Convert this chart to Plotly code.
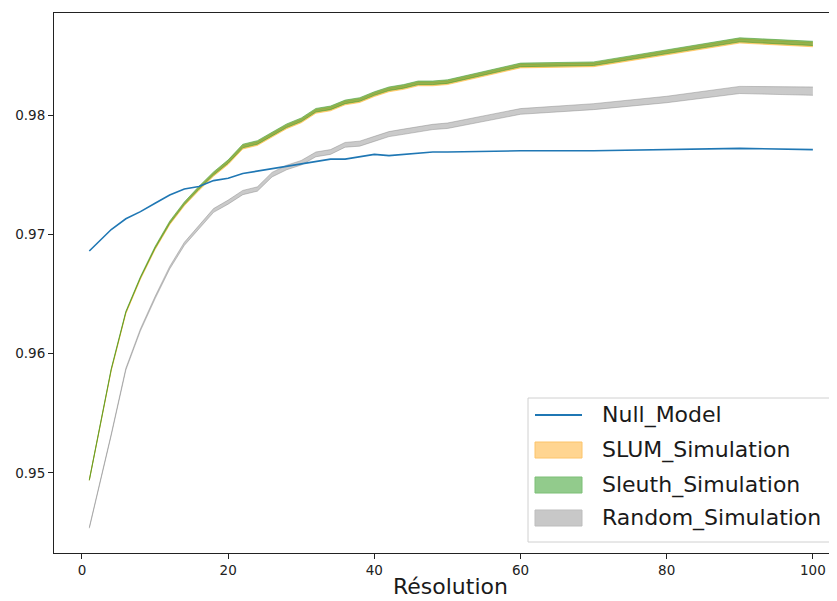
import plotly.graph_objects as go

# resolution values (x)
resolution = [1, 4, 6, 8, 10, 12, 14, 16, 18, 20, 22, 24, 26, 28, 30, 32, 34, 36, 38, 40,
              42, 44, 46, 48, 50, 60, 70, 80, 90, 100]

null_model = [0.9686, 0.9704, 0.9713, 0.9719, 0.9726, 0.9733, 0.9738, 0.9740, 0.9745, 0.9747,
              0.9751, 0.9753, 0.9755, 0.9757, 0.9759, 0.9761, 0.9763, 0.9763, 0.9765, 0.9767,
              0.9766, 0.9767, 0.9768, 0.9769, 0.9769, 0.9770, 0.9770, 0.9771, 0.9772, 0.9771]

sleuth_mean = [0.9494, 0.9587, 0.9635, 0.9664, 0.9689, 0.9710, 0.9726, 0.9739, 0.9751, 0.9761,
               0.9774, 0.9777, 0.9784, 0.9791, 0.9796, 0.9804, 0.9806, 0.9811, 0.9813, 0.9818,
               0.9822, 0.9824, 0.9827, 0.9827, 0.9828, 0.9842, 0.9843, 0.9853, 0.9863, 0.9860]
sleuth_spread = [0.00003, 0.00004, 0.00005, 0.00006, 0.00008, 0.0001, 0.00011, 0.00012, 0.00013, 0.00014,
                 0.00015, 0.00015, 0.00015, 0.00015, 0.00015, 0.00015, 0.00015, 0.00015, 0.00015, 0.00015,
                 0.00015, 0.00015, 0.00015, 0.00015, 0.00015, 0.00015, 0.00015, 0.00016, 0.00017, 0.00018]

slum_mean = [0.9494, 0.9586, 0.9634, 0.9663, 0.9688, 0.9709, 0.9725, 0.9738, 0.9750, 0.9760,
             0.9773, 0.9776, 0.9783, 0.9790, 0.9795, 0.9803, 0.9805, 0.9810, 0.9812, 0.9817,
             0.9821, 0.9823, 0.9826, 0.9826, 0.9827, 0.9841, 0.9842, 0.9852, 0.9862, 0.9859]
slum_spread = [0.00003, 0.00004, 0.00005, 0.00006, 0.00008, 0.0001, 0.00011, 0.00012, 0.00013, 0.00014,
               0.00015, 0.00015, 0.00015, 0.00015, 0.00015, 0.00015, 0.00015, 0.00015, 0.00015, 0.00015,
               0.00015, 0.00015, 0.00015, 0.00015, 0.00015, 0.00015, 0.00015, 0.00016, 0.00017, 0.00018]

random_mean = [0.9454, 0.9532, 0.9587, 0.9620, 0.9647, 0.9672, 0.9692, 0.9706, 0.9720, 0.9727,
               0.9735, 0.9738, 0.9750, 0.9756, 0.9760, 0.9767, 0.9769, 0.9775, 0.9776, 0.9780,
               0.9784, 0.9786, 0.9788, 0.9790, 0.9791, 0.9803, 0.9807, 0.9813, 0.9821, 0.9820]
random_spread = [0.00004, 0.00006, 0.00008, 0.00009, 0.0001, 0.00011, 0.00013, 0.00015, 0.00016, 0.00017,
                 0.00018, 0.00018, 0.00019, 0.00019, 0.00019, 0.0002, 0.0002, 0.0002, 0.00021, 0.00021,
                 0.00021, 0.00022, 0.00022, 0.00022, 0.00023, 0.00024, 0.00025, 0.00027, 0.0003, 0.00035]

legend_names = ['Null_Model', 'SLUM_Simulation', 'Sleuth_Simulation', 'Random_Simulation']
legend_patch_colors = [None, '#ffd591', '#92cb8c', '#c8c8c8']
legend_edge_colors = [None, '#fcc46a', '#7dbf77', '#bdbdbd']

y_ticks = [0.95, 0.96, 0.97, 0.98]
x_ticks = [0, 20, 40, 60, 80, 100]

# page geometry (the html body adds an 8px offset)
W, H = 829, 593
PLOT_L, PLOT_R, PLOT_T, PLOT_B = 54, 837, 13, 553


def px(x):
    return (x - PLOT_L) / (PLOT_R - PLOT_L)


def py(y):
    return (PLOT_B - y) / (PLOT_B - PLOT_T)


fig = go.Figure()


def add_band(mean, spread, color):
    lower = [m - s for m, s in zip(mean, spread)]
    upper = [m + s for m, s in zip(mean, spread)]
    fig.add_trace(go.Scatter(x=resolution, y=lower, mode='lines', line=dict(width=1, color=color),
                             showlegend=False, hoverinfo='skip'))
    fig.add_trace(go.Scatter(x=resolution, y=upper, mode='lines', line=dict(width=1, color=color),
                             fill='tonexty', fillcolor=color, showlegend=False))


add_band(slum_mean, slum_spread, 'rgba(255,165,0,0.45)')
add_band(sleuth_mean, sleuth_spread, 'rgba(60,150,30,0.55)')
add_band(random_mean, random_spread, 'rgba(128,128,128,0.42)')
fig.add_trace(go.Scatter(x=resolution, y=null_model, mode='lines', name='Null_Model',
                         line=dict(color='#1f77b4', width=1.6), showlegend=False))

# legend drawn by hand so that the patches keep matplotlib's size
shapes = [dict(type='rect', xref='paper', yref='paper', x0=px(528), x1=px(835), y0=py(542), y1=py(398),
               fillcolor='rgba(255,255,255,0.8)', line=dict(color='#d0d0d0', width=1), layer='above')]
annotations = []
row_y = [415, 450, 485, 518]
for name, yc, fc, ec in zip(legend_names, row_y, legend_patch_colors, legend_edge_colors):
    if fc is None:
        shapes.append(dict(type='line', xref='paper', yref='paper', x0=px(535), x1=px(582),
                           y0=py(yc), y1=py(yc), line=dict(color='#1f77b4', width=2), layer='above'))
    else:
        shapes.append(dict(type='rect', xref='paper', yref='paper', x0=px(535), x1=px(582),
                           y0=py(yc + 8), y1=py(yc - 8), fillcolor=fc,
                           line=dict(color=ec, width=1), layer='above'))
    annotations.append(dict(text=name, xref='paper', yref='paper', x=px(600), y=py(yc),
                            xanchor='left', yanchor='middle', showarrow=False,
                            font=dict(size=22, color='#1a1a1a')))

# x axis title
annotations.append(dict(text='Résolution', xref='paper', yref='paper', x=px(450), y=py(586),
                        xanchor='center', yanchor='middle', showarrow=False,
                        font=dict(size=22, color='#1a1a1a')))

fig.update_layout(
    width=W, height=H,
    margin=dict(l=46, r=0, t=5, b=H + 8 - PLOT_B),
    paper_bgcolor='white', plot_bgcolor='white',
    font=dict(family='DejaVu Sans', color='#222'),
    showlegend=False,
    shapes=shapes,
    annotations=annotations,
    xaxis=dict(range=[-3.83, 103.3], tickvals=x_ticks, showgrid=False, zeroline=False,
               showline=True, linecolor='#222', linewidth=1, mirror=True, automargin=False,
               ticks='outside', ticklen=5, tickcolor='#222', tickfont=dict(size=13.5)),
    yaxis=dict(range=[0.94329, 0.98855], tickvals=y_ticks, tickformat='.2f',
               showgrid=False, zeroline=False, automargin=False,
               showline=True, linecolor='#222', linewidth=1,
               ticks='outside', ticklen=5, tickcolor='#222', tickfont=dict(size=13.5)),
)

fig.write_html("out.html")
